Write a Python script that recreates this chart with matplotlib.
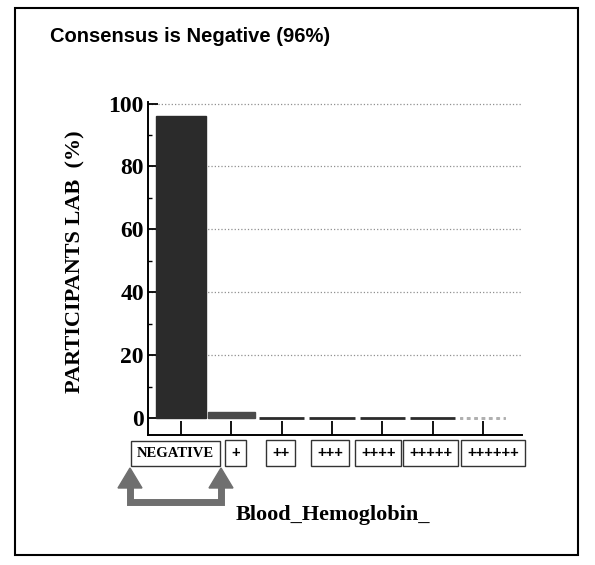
import matplotlib
matplotlib.use("Agg")
import matplotlib.pyplot as plt
from matplotlib.patches import Rectangle, Polygon
from matplotlib.lines import Line2D

categories = ["NEGATIVE", "+", "++", "+++", "++++", "+++++", "++++++"]
percent = [96, 2, 0, 0, 0, 0, 0]
yticks = [0, 20, 40, 60, 80, 100]

W, H = 595, 565
fig = plt.figure(figsize=(W / 100, H / 100), dpi=100)


def fx(px):
    return px / W


def fy(py):
    return 1 - py / H


# axes box in pixel terms
ax = fig.add_axes([fx(148), fy(435), fx(522 - 148), (435 - 102) / H])

serif = "Liberation Serif"
xs = list(range(len(categories)))

for i, v in enumerate(percent):
    if v > 0:
        col = "#2b2b2b" if i == 0 else "#4a4a4a"
        ax.bar(xs[i], v, width=1.0 if i == 0 else 0.92, color=col,
               edgecolor=col, zorder=3)
    else:
        last = i == len(categories) - 1
        ax.bar(xs[i], v, width=0.9, color="none",
               edgecolor="#b0b0b0" if last else "#2b2b2b",
               linestyle=":" if last else "-", linewidth=2, zorder=3)

ax.set_xlim(-0.66, 6.78)
ax.set_ylim(-5.4, 100.5)
ax.set_yticks(yticks)
ax.set_yticks(range(10, 100, 20), minor=True)
ax.set_xticks(xs)
ax.set_xticklabels([])
ax.tick_params(axis="x", direction="in", length=10, width=1.3)
ax.tick_params(axis="y", which="major", direction="in", length=7, width=1.3, pad=3)
ax.tick_params(axis="y", which="minor", direction="in", length=3, width=1)
for lab in ax.get_yticklabels():
    lab.set_fontfamily(serif)
    lab.set_fontweight("bold")
    lab.set_fontsize(17)

ax.yaxis.grid(True, linestyle=":", color="#909090", linewidth=0.9)
ax.set_axisbelow(True)
ax.yaxis.get_gridlines()[0].set_visible(False)

for s in ["top", "right"]:
    ax.spines[s].set_visible(False)
for s in ["left", "bottom"]:
    ax.spines[s].set_linewidth(1.4)

# boxed category labels below the axis (small nudges so boxes sit like the original)
nudge = [-0.12, 0.08, -0.02, -0.04, -0.08, -0.04, 0.2]
for i, c in enumerate(categories):
    is_word = c.isalpha()
    ax.text(xs[i] + nudge[i], -0.055, c, transform=ax.get_xaxis_transform(),
            ha="center", va="center",
            fontfamily=serif if is_word else "Liberation Sans",
            fontweight="bold", fontsize=10.5,
            bbox=dict(boxstyle="square,pad=0.4", facecolor="white",
                      edgecolor="#333333", linewidth=1))

# gray U-shaped double arrow under NEGATIVE and +
gray = "#6f6f6f"
fig.add_artist(Line2D([fx(130), fx(130), fx(221), fx(221)],
                      [fy(484), fy(502), fy(502), fy(484)],
                      color=gray, linewidth=5, solid_joinstyle="miter"))
for cx in (130, 221):
    fig.add_artist(Polygon([(fx(cx), fy(468)), (fx(cx - 12), fy(488)),
                            (fx(cx + 12), fy(488))],
                           closed=True, color=gray))

fig.text(fx(50), fy(36), "Consensus is Negative (96%)", ha="left", va="center",
         fontfamily="Liberation Sans", fontweight="bold", fontsize=14.5)
fig.text(fx(75), fy(262), "PARTICIPANTS LAB  (%)", rotation=90,
         ha="center", va="center", fontfamily=serif, fontweight="bold",
         fontsize=16)
fig.text(fx(333), fy(515), "Blood_Hemoglobin_", ha="center", va="center",
         fontfamily=serif, fontweight="bold", fontsize=16)

# outer frame
fig.add_artist(Rectangle((fx(15), fy(555)), fx(578 - 15), (555 - 8) / H,
                         fill=False, edgecolor="black", linewidth=1.5))

fig.savefig("out.png", dpi=100)
